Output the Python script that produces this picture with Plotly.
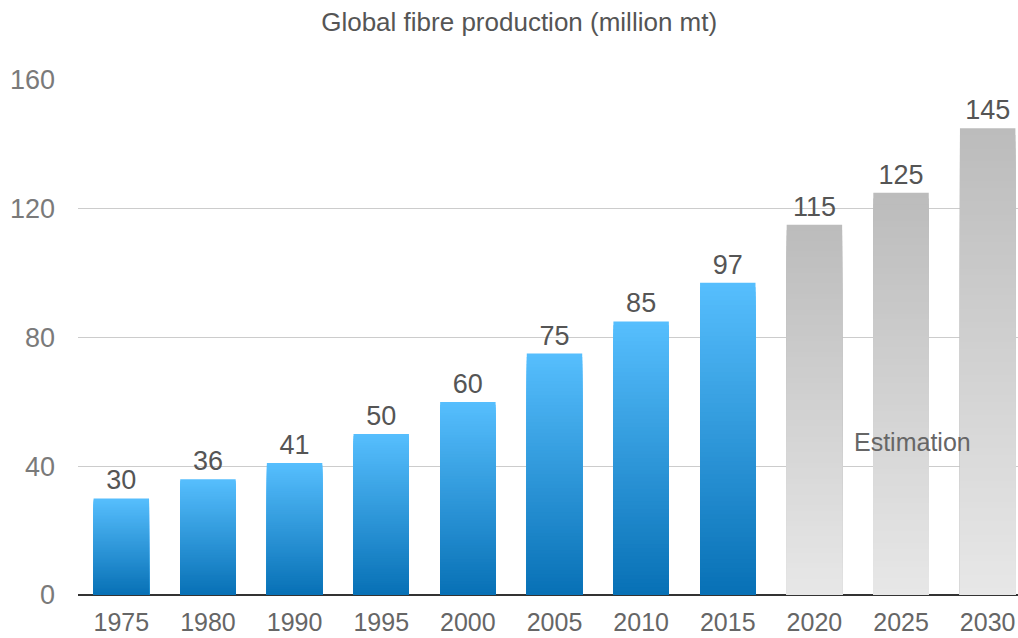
import plotly.graph_objects as go

# Global fibre production, million metric tonnes
years = ["1975", "1980", "1990", "1995", "2000", "2005", "2010", "2015", "2020", "2025", "2030"]
production = [30, 36, 41, 50, 60, 75, 85, 97, 115, 125, 145]
is_estimate = [False] * 8 + [True] * 3

title_text = "Global fibre production (million mt)"
estimate_note = "Estimation"
y_ticks = [0, 40, 80, 120, 160]

# gradient end colours (top, bottom) for actual and estimated bars
BLUE_TOP, BLUE_BOTTOM = (86, 190, 253), (8, 113, 182)
GREY_TOP, GREY_BOTTOM = (188, 188, 188), (231, 231, 231)
LEVELS = 70
FONT = "Liberation Sans, Arial, sans-serif"


def mix(c1, c2, t):
    return "rgb({},{},{})".format(*[round(a + (b - a) * t) for a, b in zip(c1, c2)])


fig = go.Figure()

# Each bar is painted as a stack of overlaid bars shrinking towards the base,
# so the colour moves from the top shade down to the bottom shade.
for k in range(LEVELS):
    frac = (LEVELS - k) / LEVELS          # share of the bar height this layer covers
    t = k / (LEVELS - 1)                  # 0 at the top layer, 1 at the bottom
    colours = [
        mix(GREY_TOP, GREY_BOTTOM, t) if est else mix(BLUE_TOP, BLUE_BOTTOM, t)
        for est in is_estimate
    ]
    top_layer = k == 0
    fig.add_trace(
        go.Bar(
            x=years,
            y=[v * frac for v in production],
            marker=dict(color=colours, line=dict(width=0)),
            width=0.64,
            text=[str(v) for v in production] if top_layer else None,
            textposition="outside" if top_layer else "none",
            textfont=dict(family=FONT, size=27, color="#555555"),
            cliponaxis=False if top_layer else True,
            hoverinfo="skip" if not top_layer else None,
            showlegend=False,
        )
    )

fig.add_annotation(
    x=9.13, y=47.5, xref="x", yref="y",
    text=estimate_note, showarrow=False,
    font=dict(family=FONT, size=25, color="#666666"),
)

fig.update_layout(
    width=1018,
    height=638,
    margin=dict(l=78, r=0, t=80, b=43, autoexpand=False),
    paper_bgcolor="white",
    plot_bgcolor="white",
    barmode="overlay",
    bargap=0.36,
    title=dict(
        text=title_text,
        x=0.51, xanchor="center",
        y=1 - 22 / 638, yanchor="middle", yref="container",
        font=dict(family=FONT, size=26, color="#555555"),
    ),
    xaxis=dict(
        type="category",
        range=[-0.5, 10.35],
        automargin=False,
        showgrid=False,
        showline=False,
        ticks="",
        ticklabelstandoff=10,
        tickfont=dict(family=FONT, size=25, color="#666666"),
    ),
    yaxis=dict(
        range=[0, 160],
        tickvals=y_ticks,
        automargin=False,
        showgrid=True,
        gridcolor="#cccccc",
        gridwidth=1,
        zeroline=True,
        zerolinecolor="#333333",
        zerolinewidth=1.5,
        showline=False,
        ticks="",
        ticklabelstandoff=22,
        tickfont=dict(family=FONT, size=27, color="#7a7a7a"),
    ),
)

fig.write_html("out.html")
